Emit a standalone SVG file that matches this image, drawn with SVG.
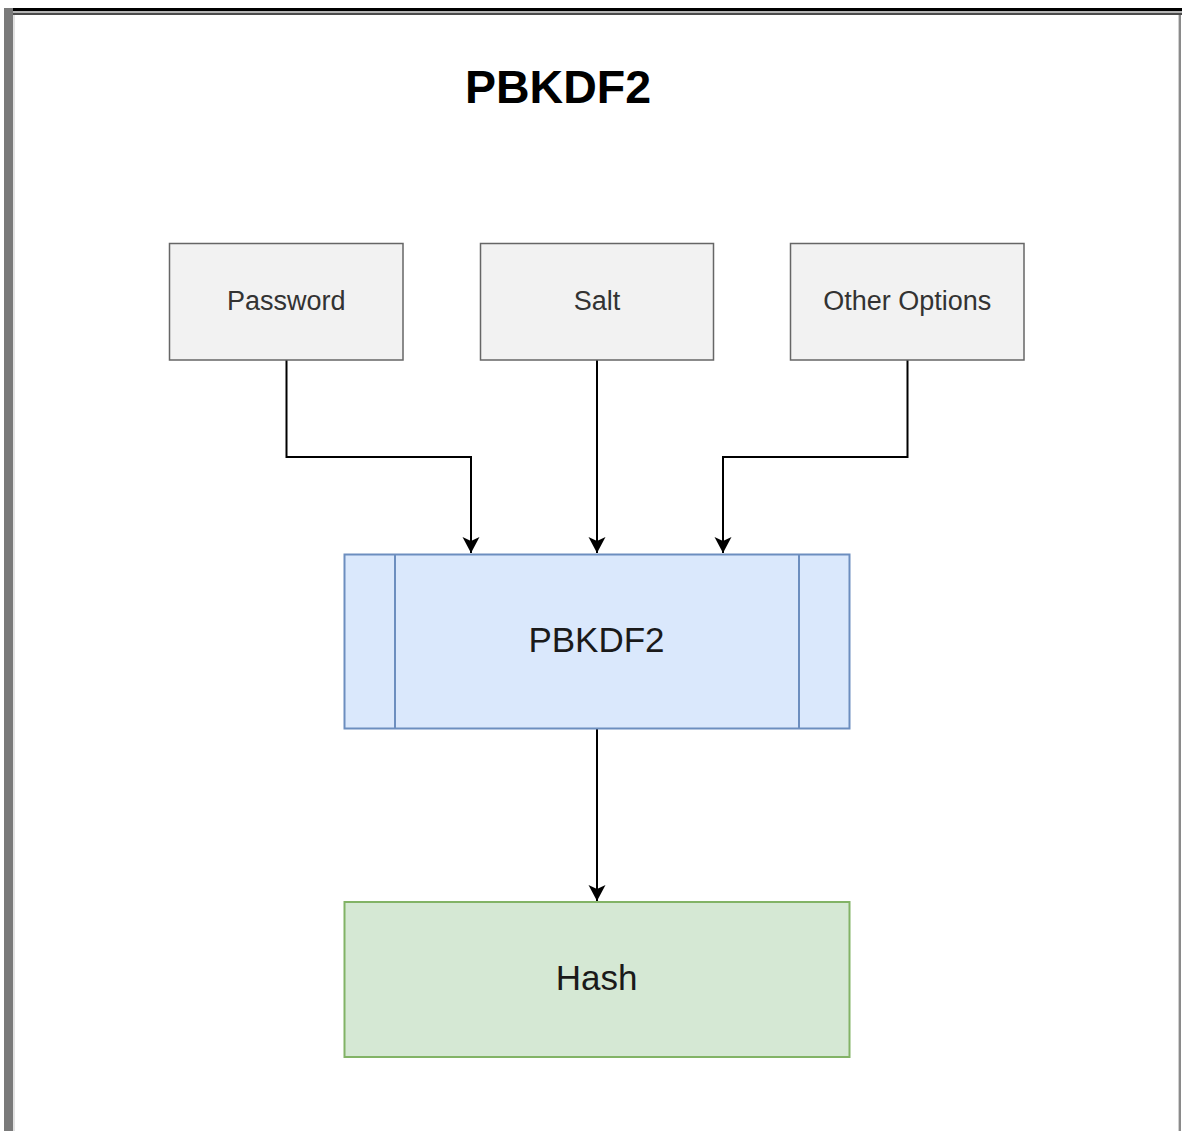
<svg xmlns="http://www.w3.org/2000/svg" width="1182" height="1131" viewBox="0 0 1182 1131">
  <style>
    .input rect { fill: #f2f2f2; stroke: #666666; stroke-width: 1.5; }
    .input text { fill: #333333; font-size: 27px; }
    .label { font-family: "Liberation Sans", Arial, Helvetica, sans-serif; text-anchor: middle; }
    .process { fill: #dae8fc; stroke: #6c8ebf; stroke-width: 2; }
    .result { fill: #d5e8d4; stroke: #82b366; stroke-width: 2; }
    .big { fill: #1a1a1a; font-size: 35px; }
    .edge { fill: none; stroke: #000000; stroke-width: 2; marker-end: url(#arrow); }
  </style>
  <defs>
    <!-- classic notched arrowhead, tip at the path end -->
    <marker id="arrow" viewBox="-17 -9 18 18" refX="0" refY="0" markerWidth="18" markerHeight="18" markerUnits="userSpaceOnUse" orient="auto">
      <path d="M0,0 L-16,-8.5 L-12,0 L-16,8.5 Z" fill="#000000"/>
    </marker>
  </defs>

  <!-- window frame -->
  <rect x="0" y="0" width="1182" height="1131" fill="#ffffff"/>
  <rect x="4" y="8" width="1178" height="3" fill="#000000"/>
  <rect x="13" y="11" width="1169" height="2" fill="#b4b4b4"/>
  <rect x="13" y="13" width="1169" height="2" fill="#4a4a4a"/>
  <rect x="4" y="8" width="9" height="1123" fill="#7a7a7a"/>
  <rect x="13" y="15" width="2" height="1116" fill="#e2e2e2"/>
  <rect x="1179" y="15" width="2" height="1116" fill="#8a8a8a"/>
  <rect x="1178" y="15" width="1" height="1116" fill="#d0d0d0"/>

  <!-- title -->
  <g id="title">
    <text class="label" x="558" y="103" font-size="46.5" font-weight="bold" fill="#000000">PBKDF2</text>
  </g>

  <!-- connectors -->
  <g id="connectors">
    <path class="edge" d="M286.5,360 V457 H471 V553"/>
    <path class="edge" d="M597,360 V553"/>
    <path class="edge" d="M907.5,360 V457 H723 V553"/>
    <path class="edge" d="M597,729 V901"/>
  </g>

  <!-- inputs -->
  <g id="password" class="input">
    <rect x="169.5" y="243.5" width="233.5" height="116.5"/>
    <text class="label" x="286.3" y="310">Password</text>
  </g>
  <g id="salt" class="input">
    <rect x="480.5" y="243.5" width="233" height="116.5"/>
    <text class="label" x="597" y="310">Salt</text>
  </g>
  <g id="other-options" class="input">
    <rect x="790.5" y="243.5" width="233.5" height="116.5"/>
    <text class="label" x="907.3" y="310">Other Options</text>
  </g>

  <!-- key derivation process -->
  <g id="pbkdf2">
    <rect class="process" x="344.5" y="554.5" width="505" height="174"/>
    <line class="process" x1="395" y1="554.5" x2="395" y2="728.5"/>
    <line class="process" x1="799" y1="554.5" x2="799" y2="728.5"/>
    <text class="label big" x="596.5" y="652">PBKDF2</text>
  </g>

  <!-- output -->
  <g id="hash">
    <rect class="result" x="344.5" y="902" width="505" height="155"/>
    <text class="label big" x="596.5" y="989.5">Hash</text>
  </g>
</svg>
